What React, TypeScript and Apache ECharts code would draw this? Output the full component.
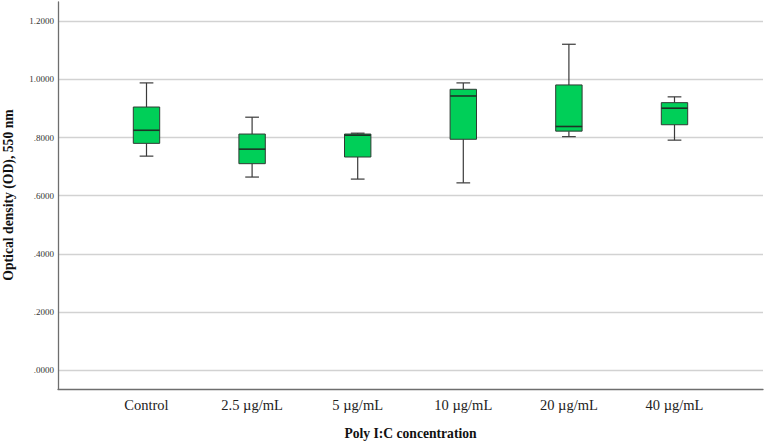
import React, { useEffect, useRef } from "react";
import * as echarts from "echarts";

// Poly I:C concentration groups and their five-number summaries (OD at 550 nm)
const categories = ["Control", "2.5 µg/mL", "5 µg/mL", "10 µg/mL", "20 µg/mL", "40 µg/mL"];
const minima = [0.736, 0.664, 0.657, 0.644, 0.803, 0.791];
const lowerQuartiles = [0.780, 0.710, 0.733, 0.794, 0.822, 0.844];
const medians = [0.825, 0.760, 0.808, 0.943, 0.838, 0.901];
const upperQuartiles = [0.905, 0.812, 0.812, 0.966, 0.981, 0.920];
const maxima = [0.988, 0.870, 0.815, 0.988, 1.121, 0.940];

const Y_TITLE = "Optical density (OD), 550 nm";
const X_TITLE = "Poly I:C concentration";

const FONT = "'Liberation Serif', 'Times New Roman', serif";
const BOX_FILL = "#00cf58";

export default function App() {
  const ref = useRef<HTMLDivElement>(null);

  useEffect(() => {
    if (!ref.current) return;
    const chart = echarts.init(ref.current, undefined, { renderer: "svg" });

    const data = categories.map((_, i) => [
      i,
      minima[i],
      lowerQuartiles[i],
      medians[i],
      upperQuartiles[i],
      maxima[i],
    ]);

    const renderItem = (params: any, api: any) => {
      const idx = api.value(0);
      const band = api.size([1, 0])[0];
      const boxW = band * 0.25;
      const capW = band * 0.13;
      const pMin = api.coord([idx, api.value(1)]);
      const pQ1 = api.coord([idx, api.value(2)]);
      const pMed = api.coord([idx, api.value(3)]);
      const pQ3 = api.coord([idx, api.value(4)]);
      const pMax = api.coord([idx, api.value(5)]);
      const x = pMed[0];
      const whisker = { stroke: "#3a3a3a", lineWidth: 1.2 };
      return {
        type: "group",
        children: [
          { type: "line", shape: { x1: x, y1: pMax[1], x2: x, y2: pQ3[1] }, style: whisker },
          { type: "line", shape: { x1: x, y1: pQ1[1], x2: x, y2: pMin[1] }, style: whisker },
          { type: "line", shape: { x1: x - capW / 2, y1: pMax[1], x2: x + capW / 2, y2: pMax[1] }, style: whisker },
          { type: "line", shape: { x1: x - capW / 2, y1: pMin[1], x2: x + capW / 2, y2: pMin[1] }, style: whisker },
          {
            type: "rect",
            shape: { x: x - boxW / 2, y: pQ3[1], width: boxW, height: pQ1[1] - pQ3[1] },
            style: { fill: BOX_FILL, stroke: "#2f3a33", lineWidth: 1 },
          },
          {
            type: "line",
            shape: { x1: x - boxW / 2, y1: pMed[1], x2: x + boxW / 2, y2: pMed[1] },
            style: { stroke: "#1e3326", lineWidth: 1.6 },
          },
        ],
      };
    };

    chart.setOption({
      animation: false,
      backgroundColor: "#ffffff",
      grid: [
        // gridlines and tick labels, spanning 0 to 1.2
        { left: 58, right: 1, top: 21.3, bottom: 71, containLabel: false, outerBoundsMode: "none" },
        // frame: left and bottom axis lines
        { left: 58, right: 1, top: 2, bottom: 52, containLabel: false, outerBoundsMode: "none" },
        // boxes and category labels
        { left: 93.7, right: 36.7, top: 21.3, bottom: 71, containLabel: false, outerBoundsMode: "none" },
      ],
      xAxis: [
        { gridIndex: 0, type: "value", min: 0, max: 1, show: false },
        {
          gridIndex: 1,
          type: "value",
          min: 0,
          max: 1,
          axisLine: { show: true, lineStyle: { color: "#6e6e6e", width: 1.3 } },
          axisTick: { show: false },
          axisLabel: { show: false },
          splitLine: { show: false },
        },
        {
          gridIndex: 2,
          type: "category",
          data: categories,
          offset: 19,
          axisLine: { show: false },
          axisTick: { show: false },
          axisLabel: { margin: 8, fontSize: 14.5, color: "#222", fontFamily: FONT },
          name: X_TITLE,
          nameLocation: "middle",
          nameGap: 37,
          nameTextStyle: { fontSize: 13.6, fontWeight: "bold", color: "#111", fontFamily: FONT },
        },
      ],
      yAxis: [
        {
          gridIndex: 0,
          type: "value",
          min: 0,
          max: 1.2,
          interval: 0.2,
          axisLine: { show: false },
          axisTick: { show: false },
          axisLabel: {
            margin: 4,
            fontSize: 9,
            color: "#333",
            fontFamily: FONT,
            formatter: (v: number) => v.toFixed(4).replace(/^0/, ""),
          },
          splitLine: { show: true, lineStyle: { color: "#d2d2d2", width: 1.3 } },
        },
        {
          gridIndex: 1,
          type: "value",
          min: 0,
          max: 1,
          axisLine: { show: true, lineStyle: { color: "#6e6e6e", width: 1.3 } },
          axisTick: { show: false },
          axisLabel: { show: false },
          splitLine: { show: false },
        },
        { gridIndex: 2, type: "value", min: 0, max: 1.2, show: false },
      ],
      graphic: [
        {
          type: "text",
          x: 8.5,
          y: 195,
          rotation: Math.PI / 2,
          style: {
            text: Y_TITLE,
            fill: "#111",
            font: `bold 13.7px ${FONT}`,
            textAlign: "center",
            textVerticalAlign: "middle",
          },
        },
      ],
      series: [
        {
          type: "custom",
          xAxisIndex: 2,
          yAxisIndex: 2,
          clip: false,
          renderItem,
          data,
        },
      ],
    });

    return () => chart.dispose();
  }, []);

  return (
    <div
      ref={ref}
      style={{ position: "fixed", left: 0, top: 0, width: 764, height: 441, background: "#fff" }}
    />
  );
}
